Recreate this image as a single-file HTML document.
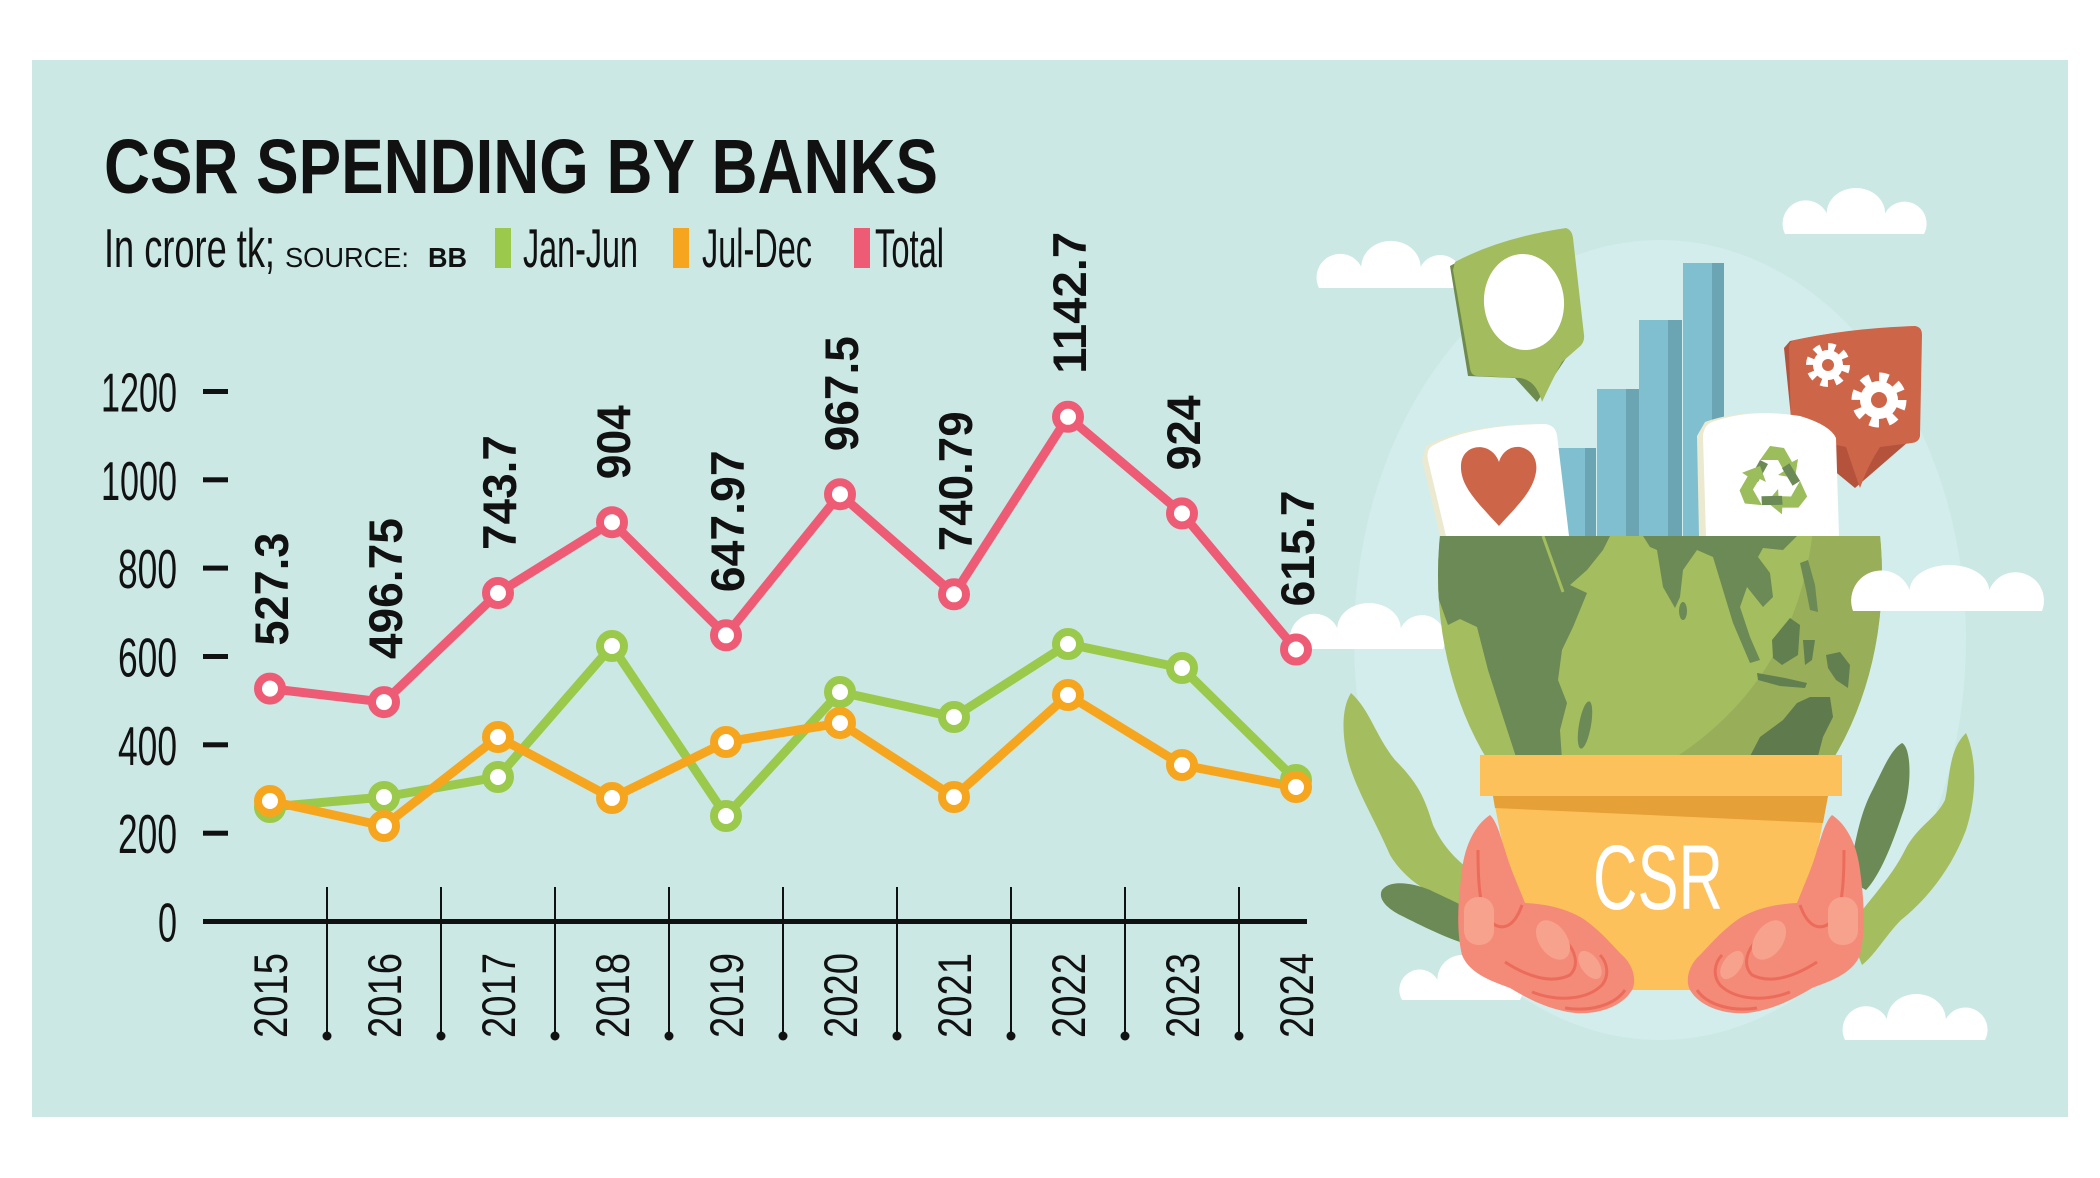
<!DOCTYPE html>
<html><head><meta charset="utf-8"><style>html,body{margin:0;padding:0;background:#fff}svg{display:block}text{font-family:"Liberation Sans",sans-serif}</style></head>
<body>
<svg width="2100" height="1178" viewBox="0 0 2100 1178" xmlns="http://www.w3.org/2000/svg">
<defs>
<clipPath id="gtop"><rect x="1400" y="536" width="540" height="300"/></clipPath>
<clipPath id="gell"><ellipse cx="1660" cy="575" rx="222" ry="294"/></clipPath>
</defs>
<rect x="0" y="0" width="2100" height="1178" fill="#fff"/>
<rect x="32" y="60" width="2036" height="1057" fill="#cbe8e5"/>

<!-- halo -->
<ellipse cx="1660" cy="640" rx="306" ry="400" fill="#d3ecec"/>

<!-- clouds behind -->
<g fill="#fff">
<path d="M1319,288 A1,1 0 0 1 1361.3,266.9 A29.6,26 0 0 1 1420.5,266.9 A1,1 0 0 1 1460,288 Z"/>
<path d="M1785,234 A1,1 0 0 1 1826.7,213.3 A29.2,25.3 0 0 1 1885.1,213.3 A1,1 0 0 1 1924,234 Z"/>
<path d="M1292,649 A1,1 0 0 1 1337.3,628.3 A31.7,25.3 0 0 1 1400.7,628.3 A1,1 0 0 1 1443,649 Z"/>
<path d="M1402,1000 A1,1 0 0 1 1437.4,979.75 A24.8,24.75 0 0 1 1487,979.75 A1,1 0 0 1 1520,1000 Z"/>
<path d="M1845,1040 A1,1 0 0 1 1887,1019.3 A29.4,25.3 0 0 1 1945.8,1019.3 A1,1 0 0 1 1985,1040 Z"/>
</g>

<!-- leaves -->
<path d="M1351,693 C1340,710 1343,740 1348,760 C1356,790 1375,820 1390,855 C1405,880 1430,895 1460,905 L1470,870 C1450,855 1440,840 1433,825 C1425,800 1420,785 1395,760 C1375,735 1370,710 1351,693 Z" fill="#a3bd5f"/>
<path d="M1382,890 C1390,880 1410,882 1430,890 C1450,900 1465,905 1475,915 L1470,945 C1450,940 1420,925 1400,915 C1385,907 1378,898 1382,890 Z" fill="#6b8a55"/>
<path d="M1902,743 C1912,748 1912,790 1902,815 C1892,845 1880,875 1866,890 L1848,880 C1854,850 1858,820 1870,795 C1882,772 1890,750 1902,743 Z" fill="#6b8a55"/>
<path d="M1966,733 C1978,760 1976,800 1966,830 C1951,870 1926,900 1901,920 C1886,935 1875,955 1862,965 L1848,930 C1868,900 1890,880 1905,850 C1918,825 1935,820 1945,800 C1950,780 1948,750 1966,733 Z" fill="#a3bd5f"/>

<!-- green bubble -->
<path d="M1450,266 Q1495,240 1561,230 L1578,340 L1537,402 L1515,378 L1468,376 Z" fill="#6f8a4d"/>
<path d="M1455,262 Q1500,238 1566,228 Q1572,230 1573,238 L1584,335 Q1585,343 1578,348 L1562,362 Q1552,380 1542,402 Q1536,380 1520,378 L1478,376 Q1471,376 1470,368 L1453,270 Z" fill="#a2bc5e"/>
<ellipse cx="1524" cy="302" rx="40" ry="48" fill="#fff" transform="rotate(-5 1524 302)"/>

<!-- orange bubble -->
<path d="M1790,341 Q1845,329 1910,327 L1915,436 L1855,488 L1793,437 L1784,348 Z" fill="#b4523b"/>
<path d="M1795,340 Q1850,328 1915,326 Q1922,327 1922,335 L1920,436 Q1919,442 1912,443 L1880,447 Q1868,465 1860,488 Q1852,465 1846,447 L1798,437 Q1791,436 1791,428 L1789,348 Q1789,341 1795,340 Z" fill="#cd6549"/>
<g transform="translate(1828,365)"><circle r="15" fill="#fff"/><circle r="18" fill="none" stroke="#fff" stroke-width="8" stroke-dasharray="7 7.14"/><circle r="6" fill="#cd6549"/></g>
<g transform="translate(1879,400)"><circle r="19" fill="#fff"/><circle r="23" fill="none" stroke="#fff" stroke-width="9" stroke-dasharray="9 9.06"/><circle r="8" fill="#cd6549"/></g>

<!-- bars -->
<rect x="1555" y="448" width="41" height="90" fill="#80bfcf"/><rect x="1585" y="448" width="11" height="90" fill="#6ba4b2"/>
<rect x="1597" y="389" width="42" height="149" fill="#80bfcf"/><rect x="1626" y="389" width="13" height="149" fill="#6ba4b2"/>
<rect x="1639" y="320" width="43" height="218" fill="#80bfcf"/><rect x="1668" y="320" width="14" height="218" fill="#6ba4b2"/>
<rect x="1683" y="263" width="41" height="275" fill="#80bfcf"/><rect x="1712" y="263" width="12" height="275" fill="#6ba4b2"/>

<!-- heart card -->
<path d="M1426,446 Q1464,425 1539,424 L1563,536 L1440,536 L1422,460 Z" fill="#ebead0"/>
<path d="M1432,446 Q1470,425 1545,424 Q1555,425 1557,435 L1569,536 L1446,536 L1428,460 Q1426,450 1432,446 Z" fill="#fff"/>
<path d="M1499,526 C1475,500 1460,485 1461,465 C1462,450 1475,445 1485,448 C1492,450 1497,456 1499,462 C1502,452 1510,446 1520,447 C1532,449 1538,460 1536,472 C1533,492 1515,508 1499,526 Z" fill="#cd6549"/>

<!-- recycle card -->
<path d="M1705,422 Q1743,408 1793,416 L1830,438 L1832,536 L1699,536 L1697,436 Z" fill="#ebead0"/>
<path d="M1712,422 Q1750,408 1800,416 Q1830,425 1836,438 L1839,536 L1706,536 L1703,436 Q1704,425 1712,422 Z" fill="#fff"/>
<g transform="translate(1774,482)">
<g><polygon points="-14,-22 -4,-36 10,-34 18,-20 24,-23 21,-4 4,-7 10,-11 4,-22 -6,-22" fill="#9bbd5c"/><polygon points="-24,-4 -14,-22 -6,-18 -16,0" fill="#6b8a55"/></g>
<g transform="rotate(120)"><polygon points="-14,-22 -4,-36 10,-34 18,-20 24,-23 21,-4 4,-7 10,-11 4,-22 -6,-22" fill="#9bbd5c"/><polygon points="-24,-4 -14,-22 -6,-18 -16,0" fill="#6b8a55"/></g>
<g transform="rotate(240)"><polygon points="-14,-22 -4,-36 10,-34 18,-20 24,-23 21,-4 4,-7 10,-11 4,-22 -6,-22" fill="#9bbd5c"/><polygon points="-24,-4 -14,-22 -6,-18 -16,0" fill="#6b8a55"/></g>
</g>

<!-- globe -->
<g clip-path="url(#gtop)"><g clip-path="url(#gell)">
<rect x="1430" y="530" width="460" height="360" fill="#a3bd5f"/>
<path d="M1813,530 Q1795,690 1655,770 L1900,770 L1900,530 Z" fill="#98ae59"/>
<path d="M1443,536 L1610,536 L1603,550 L1587,570 L1570,585 L1587,593 L1573,627 L1562,650 L1558,680 L1567,703 L1560,730 L1562,760 L1517,760 L1503,717 L1488,670 L1477,627 L1460,619 L1448,625 L1438,597 L1436,536 Z" fill="#6b8a55"/>
<line x1="1543" y1="536" x2="1563" y2="592" stroke="#a3bd5f" stroke-width="3"/>
<ellipse cx="1585" cy="725" rx="6" ry="24" transform="rotate(10 1585 725)" fill="#6b8a55"/>
<path d="M1643,536 L1797,536 L1783,550 L1763,548 L1758,557 L1770,573 L1773,597 L1763,607 L1747,587 L1740,607 L1750,637 L1760,660 L1750,663 L1733,623 L1713,557 L1697,550 L1683,570 L1680,597 L1675,608 L1663,587 L1657,550 L1650,547 Z" fill="#6b8a55"/>
<ellipse cx="1683" cy="611" rx="4" ry="9" fill="#6b8a55"/>
<path d="M1800,563 L1808,560 L1815,585 L1818,612 L1810,610 L1806,590 Z" fill="#6b8a55"/>
<path d="M1772,640 L1790,618 L1800,625 L1798,655 L1782,665 L1773,658 Z" fill="#617f4f"/>
<path d="M1803,640 L1815,640 L1812,660 L1805,665 Z" fill="#617f4f"/>
<path d="M1826,655 L1840,652 L1850,665 L1848,688 L1836,680 L1828,668 Z" fill="#617f4f"/>
<path d="M1757,673 L1785,678 L1807,683 L1805,688 L1780,686 L1758,680 Z" fill="#617f4f"/>
<path d="M1748,760 L1760,737 L1783,720 L1797,703 L1810,697 L1830,697 L1833,717 L1823,737 L1817,760 Z" fill="#5f7b4d"/>
</g></g>

<!-- cloud in front of globe -->
<path d="M1853,611 A1,1 0 0 1 1909.7,590.3 A39.7,25.3 0 0 1 1989.1,590.3 A1,1 0 0 1 2042,611 Z" fill="#fff"/>

<!-- pot -->
<polygon points="1493,796 1828,796 1790,990 1531,990" fill="#fcc15a"/>
<polygon points="1493,796 1828,796 1823,823 1495,808" fill="#e5a037"/>
<rect x="1480" y="755" width="362" height="41" fill="#fcc15a"/>
<text x="1593" y="909" font-size="92" fill="#fff" textLength="130" lengthAdjust="spacingAndGlyphs">CSR</text>

<!-- hands -->
<g id="lh">
<path d="M1490,815 C1475,825 1465,845 1462,870 C1458,900 1456,930 1462,955 C1470,975 1495,982 1510,988 C1530,1000 1550,1010 1575,1013 C1600,1015 1625,1005 1633,988 C1637,975 1630,962 1622,955 C1612,945 1600,930 1582,918 C1565,908 1545,904 1525,903 C1518,885 1510,868 1505,850 C1500,835 1497,822 1490,815 Z" fill="#f48a78"/>
<path d="M1478,850 C1478,890 1480,915 1495,925 C1505,930 1515,925 1522,905" fill="none" stroke="#ec6c5c" stroke-width="3"/>
<path d="M1505,962 C1525,975 1550,985 1570,975 C1580,965 1575,950 1565,940" fill="none" stroke="#ec6c5c" stroke-width="3"/>
<path d="M1532,992 C1557,1002 1587,1000 1602,985 C1610,975 1607,962 1600,955" fill="none" stroke="#ec6c5c" stroke-width="3"/>
<path d="M1565,1008 C1590,1012 1615,1005 1625,990" fill="none" stroke="#ec6c5c" stroke-width="3"/>
<rect x="1464" y="897" width="30" height="48" rx="14" fill="#f6a28d"/>
<ellipse cx="1553" cy="940" rx="14" ry="22" transform="rotate(-35 1553 940)" fill="#f6a28d"/>
<ellipse cx="1590" cy="965" rx="9" ry="16" transform="rotate(-35 1590 965)" fill="#f6a28d"/>
</g>
<use href="#lh" transform="translate(3322,0) scale(-1,1)"/>

<!-- ===== CHART ===== -->
<text x="104" y="193" font-size="77" font-weight="bold" fill="#111" textLength="834" lengthAdjust="spacingAndGlyphs">CSR SPENDING BY BANKS</text>
<text x="104" y="267" font-size="55" fill="#111" textLength="171" lengthAdjust="spacingAndGlyphs">In crore tk;</text>
<text x="285" y="267" font-size="28" fill="#111" textLength="124" lengthAdjust="spacingAndGlyphs">SOURCE:</text>
<text x="428" y="267" font-size="28" font-weight="bold" fill="#111" textLength="39" lengthAdjust="spacingAndGlyphs">BB</text>
<rect x="495" y="228" width="16" height="40" fill="#9bc94c"/>
<text x="523" y="267" font-size="55" fill="#111" textLength="115" lengthAdjust="spacingAndGlyphs">Jan-Jun</text>
<rect x="673" y="228" width="16" height="40" fill="#f6a51f"/>
<text x="702" y="267" font-size="55" fill="#111" textLength="110" lengthAdjust="spacingAndGlyphs">Jul-Dec</text>
<rect x="854" y="228" width="16" height="40" fill="#ee5b75"/>
<text x="875" y="267" font-size="55" fill="#111" textLength="69" lengthAdjust="spacingAndGlyphs">Total</text>

<!-- y axis -->
<g fill="#111" font-size="55" text-anchor="end">
<text x="177" y="411.5" textLength="76" lengthAdjust="spacingAndGlyphs">1200</text>
<text x="177" y="499.8" textLength="76" lengthAdjust="spacingAndGlyphs">1000</text>
<text x="177" y="588.1" textLength="59" lengthAdjust="spacingAndGlyphs">800</text>
<text x="177" y="676.5" textLength="59" lengthAdjust="spacingAndGlyphs">600</text>
<text x="177" y="764.8" textLength="59" lengthAdjust="spacingAndGlyphs">400</text>
<text x="177" y="853.2" textLength="59" lengthAdjust="spacingAndGlyphs">200</text>
<text x="177" y="941.5" textLength="19" lengthAdjust="spacingAndGlyphs">0</text>
</g>
<g fill="#111">
<rect x="203" y="389" width="25" height="5"/>
<rect x="203" y="477.3" width="25" height="5"/>
<rect x="203" y="565.6" width="25" height="5"/>
<rect x="203" y="654" width="25" height="5"/>
<rect x="203" y="742.3" width="25" height="5"/>
<rect x="203" y="830.7" width="25" height="5"/>
</g>
<rect x="203" y="919" width="1104" height="5" fill="#111"/>
<g stroke="#111" stroke-width="2">
<line x1="327" y1="887" x2="327" y2="1036"/><line x1="441" y1="887" x2="441" y2="1036"/><line x1="555" y1="887" x2="555" y2="1036"/>
<line x1="669" y1="887" x2="669" y2="1036"/><line x1="783" y1="887" x2="783" y2="1036"/><line x1="897" y1="887" x2="897" y2="1036"/>
<line x1="1011" y1="887" x2="1011" y2="1036"/><line x1="1125" y1="887" x2="1125" y2="1036"/><line x1="1239" y1="887" x2="1239" y2="1036"/>
</g>
<g fill="#111">
<circle cx="327" cy="1036" r="4.5"/><circle cx="441" cy="1036" r="4.5"/><circle cx="555" cy="1036" r="4.5"/>
<circle cx="669" cy="1036" r="4.5"/><circle cx="783" cy="1036" r="4.5"/><circle cx="897" cy="1036" r="4.5"/>
<circle cx="1011" cy="1036" r="4.5"/><circle cx="1125" cy="1036" r="4.5"/><circle cx="1239" cy="1036" r="4.5"/>
</g>
<!-- year labels -->
<g fill="#111" font-size="47">
<text transform="translate(287,1038) rotate(-90)" textLength="85" lengthAdjust="spacingAndGlyphs">2015</text>
<text transform="translate(401,1038) rotate(-90)" textLength="85" lengthAdjust="spacingAndGlyphs">2016</text>
<text transform="translate(515,1038) rotate(-90)" textLength="85" lengthAdjust="spacingAndGlyphs">2017</text>
<text transform="translate(629,1038) rotate(-90)" textLength="85" lengthAdjust="spacingAndGlyphs">2018</text>
<text transform="translate(743,1038) rotate(-90)" textLength="85" lengthAdjust="spacingAndGlyphs">2019</text>
<text transform="translate(857,1038) rotate(-90)" textLength="85" lengthAdjust="spacingAndGlyphs">2020</text>
<text transform="translate(971,1038) rotate(-90)" textLength="85" lengthAdjust="spacingAndGlyphs">2021</text>
<text transform="translate(1085,1038) rotate(-90)" textLength="85" lengthAdjust="spacingAndGlyphs">2022</text>
<text transform="translate(1199,1038) rotate(-90)" textLength="85" lengthAdjust="spacingAndGlyphs">2023</text>
<text transform="translate(1313,1038) rotate(-90)" textLength="85" lengthAdjust="spacingAndGlyphs">2024</text>
</g>

<!-- series -->
<g fill="none" stroke-linejoin="round" stroke-linecap="round" stroke-width="9">
<polyline stroke="#9bc94c" points="270,807 384,797 498,777 612,646 726,816 840,692 954,717 1068,644 1182,668 1296,780"/>
<polyline stroke="#f6a51f" points="270,801 384,826 498,737 612,798 726,742 840,723 954,797 1068,695 1182,765 1296,787"/>
<polyline stroke="#ee5b75" points="270,688.6 384,702.1 498,593 612,522.2 726,635.3 840,494.2 954,594.3 1068,416.8 1182,513.4 1296,649.5"/>
</g>
<g fill="#fff" stroke-width="8">
<g stroke="#9bc94c">
<circle cx="270" cy="807" r="12"/><circle cx="384" cy="797" r="12"/><circle cx="498" cy="777" r="12"/><circle cx="612" cy="646" r="12"/><circle cx="726" cy="816" r="12"/><circle cx="840" cy="692" r="12"/><circle cx="954" cy="717" r="12"/><circle cx="1068" cy="644" r="12"/><circle cx="1182" cy="668" r="12"/><circle cx="1296" cy="780" r="12"/>
</g>
<g stroke="#f6a51f">
<circle cx="270" cy="801" r="12"/><circle cx="384" cy="826" r="12"/><circle cx="498" cy="737" r="12"/><circle cx="612" cy="798" r="12"/><circle cx="726" cy="742" r="12"/><circle cx="840" cy="723" r="12"/><circle cx="954" cy="797" r="12"/><circle cx="1068" cy="695" r="12"/><circle cx="1182" cy="765" r="12"/><circle cx="1296" cy="787" r="12"/>
</g>
<g stroke="#ee5b75">
<circle cx="270" cy="688.6" r="12"/><circle cx="384" cy="702.1" r="12"/><circle cx="498" cy="593" r="12"/><circle cx="612" cy="522.2" r="12"/><circle cx="726" cy="635.3" r="12"/><circle cx="840" cy="494.2" r="12"/><circle cx="954" cy="594.3" r="12"/><circle cx="1068" cy="416.8" r="12"/><circle cx="1182" cy="513.4" r="12"/><circle cx="1296" cy="649.5" r="12"/>
</g>
</g>

<!-- value labels -->
<g fill="#111" font-size="47" font-weight="bold">
<text transform="translate(288,645.6) rotate(-90)" textLength="113" lengthAdjust="spacingAndGlyphs">527.3</text>
<text transform="translate(402,659.1) rotate(-90)" textLength="141" lengthAdjust="spacingAndGlyphs">496.75</text>
<text transform="translate(516,550) rotate(-90)" textLength="115" lengthAdjust="spacingAndGlyphs">743.7</text>
<text transform="translate(630,479.2) rotate(-90)" textLength="74" lengthAdjust="spacingAndGlyphs">904</text>
<text transform="translate(744,592.3) rotate(-90)" textLength="142" lengthAdjust="spacingAndGlyphs">647.97</text>
<text transform="translate(858,451.2) rotate(-90)" textLength="115" lengthAdjust="spacingAndGlyphs">967.5</text>
<text transform="translate(972,551.3) rotate(-90)" textLength="140" lengthAdjust="spacingAndGlyphs">740.79</text>
<text transform="translate(1086,373.8) rotate(-90)" textLength="142" lengthAdjust="spacingAndGlyphs">1142.7</text>
<text transform="translate(1200,470.4) rotate(-90)" textLength="75" lengthAdjust="spacingAndGlyphs">924</text>
<text transform="translate(1314,606.5) rotate(-90)" textLength="116" lengthAdjust="spacingAndGlyphs">615.7</text>
</g>
</svg>
</body></html>
